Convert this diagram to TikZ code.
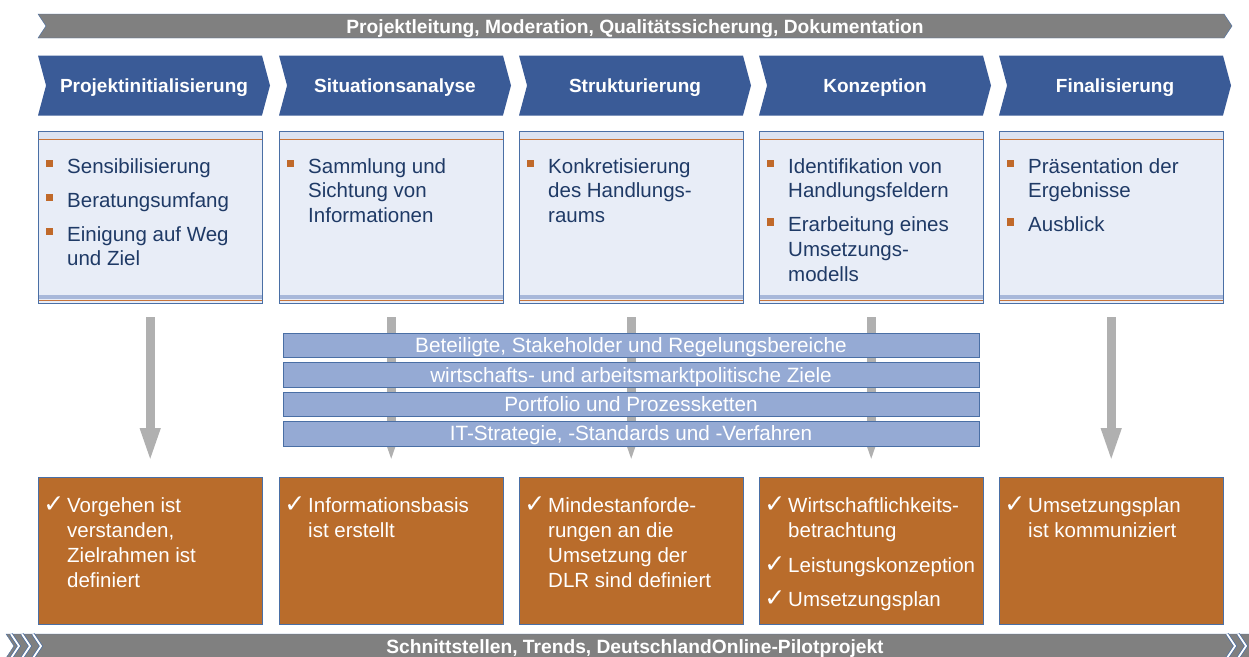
\documentclass[tikz,border=0pt]{standalone}
\usepackage{fontspec}
\setmainfont{Liberation Sans}
\newfontfamily\symfont{DejaVu Sans}
\usetikzlibrary{shapes.symbols,arrows.meta,positioning,calc}

\definecolor{phaseblue}{HTML}{3A5B97}
\definecolor{bargray}{HTML}{808080}
\definecolor{edgeblue}{HTML}{4A6FA5}
\definecolor{cardfill}{HTML}{E8EDF7}
\definecolor{cardtop}{HTML}{DCE3F1}
\definecolor{cardstripe}{HTML}{A8B8DA}
\definecolor{accent}{HTML}{C8743A}
\definecolor{bandblue}{HTML}{95AAD4}
\definecolor{resultorange}{HTML}{B96C2B}
\definecolor{bulletorange}{HTML}{C0692A}
\definecolor{cardtext}{HTML}{1F3A66}
\definecolor{arrowgray}{HTML}{B0B0B0}

\newcommand{\sqb}{\makebox[0pt][r]{\textcolor{bulletorange}{\rule[6pt]{7.5pt}{7.5pt}}\hspace{14pt}}}
\newcommand{\chk}{\makebox[0pt][r]{{\symfont\fontsize{25pt}{25pt}\selectfont ✓}\hspace{3pt}}}

\begin{document}
\begin{tikzpicture}[x=1pt, y=-1pt,
    phase/.style={signal, signal from=west, signal to=east, signal pointer angle=150,
        minimum width=232pt, minimum height=60pt, inner sep=0pt, fill=phaseblue,
        text=white, text height=13.6pt, text depth=0pt,
        font=\bfseries\fontsize{19pt}{19pt}\selectfont},
    bar/.style={signal, signal from=west, signal pointer angle=113, minimum height=24pt,
        inner sep=0pt, fill=bargray, draw=edgeblue, text=white,
        text height=14pt, text depth=0pt,
        font=\bfseries\fontsize{19.2pt}{19.2pt}\selectfont},
    card/.style={draw=edgeblue, fill=cardfill, anchor=north west, minimum width=224pt,
        minimum height=172pt, inner sep=0pt, path picture={
        \fill[cardtop] (path picture bounding box.north west) rectangle ([yshift=-8pt]path picture bounding box.north east);
        \fill[cardstripe] ([yshift=4pt]path picture bounding box.south west) rectangle ([yshift=8pt]path picture bounding box.south east);
        \draw[accent, line width=0.8pt] ([yshift=-8.5pt]path picture bounding box.north west) -- ([yshift=-8.5pt]path picture bounding box.north east);
        \draw[accent, line width=0.8pt] ([yshift=3pt]path picture bounding box.south west) -- ([yshift=3pt]path picture bounding box.south east);}},
    cardtext/.style={align=left, inner sep=0pt, text=cardtext,
        font=\fontsize{20.5pt}{24.7pt}\selectfont},
    result/.style={draw=edgeblue, fill=resultorange, anchor=north west, minimum width=224pt,
        minimum height=147pt, inner sep=0pt},
    restext/.style={align=left, inner sep=0pt, text=white,
        font=\fontsize{20.5pt}{24.7pt}\selectfont},
    band/.style={draw=edgeblue, fill=bandblue, text=white, minimum width=696pt,
        minimum height=24.5pt, inner sep=0pt, text height=14.8pt, text depth=0pt,
        font=\fontsize{20.7pt}{20.7pt}\selectfont},
    flow/.style={draw=arrowgray, line width=9pt, -{Triangle[width=18pt,length=35pt]},
        shorten <=14pt, shorten >=14pt},
    notch/.style={draw=edgeblue, line width=0.7pt, double=white, double distance=1.8pt}]
    \useasboundingbox (0,0) rectangle (1249,656);
    \clip (0,0) rectangle (1249,656);

    % top and bottom bars
    \node[bar, signal to=east, minimum width=1194pt] (lead) at (635,26) {Projektleitung, Moderation, Qualitätssicherung, Dokumentation};
    \node[bar, signal to=nowhere, minimum width=1250pt] (base) at (635,646) {Schnittstellen, Trends, DeutschlandOnline-Pilotprojekt};
    \draw[notch] (11,634) -- (19,646) -- (11,658) (22,634) -- (30,646) -- (22,658)
                 (33,634) -- (41,646) -- (33,658) (1227,634) -- (1235,646) -- (1227,658)
                 (1238,634) -- (1246,646) -- (1238,658);

    % phases
    \node[phase] (p1) at (154,85.5)   {Projektinitialisierung};
    \node[phase] (p2) at (395,85.5)   {Situationsanalyse};
    \node[phase] (p3) at (635,85.5)   {Strukturierung};
    \node[phase] (p4) at (875,85.5)   {Konzeption};
    \node[phase] (p5) at (1115,85.5)  {Finalisierung};

    % activities
    \node[card] (k1) at (38,131)  {};
    \node[card] (k2) at (279,131) {};
    \node[card] (k3) at (519,131) {};
    \node[card] (k4) at (759,131) {};
    \node[card] (k5) at (999,131) {};

    \node[cardtext, below right=27pt and 29pt of k1.north west] (t1) {\sqb Sensibilisierung\\[9.3pt]\sqb Beratungsumfang\\[9.3pt]\sqb Einigung auf Weg\\und Ziel};
    \node[cardtext, below right=27pt and 29pt of k2.north west] (t2) {\sqb Sammlung und\\Sichtung von\\Informationen};
    \node[cardtext, below right=27pt and 29pt of k3.north west] (t3) {\sqb Konkretisierung\\des Handlungs-\\raums};
    \node[cardtext, below right=27pt and 29pt of k4.north west] (t4) {\sqb Identifikation von\\Handlungsfeldern\\[9.3pt]\sqb Erarbeitung eines\\Umsetzungs-\\modells};
    \node[cardtext, below right=27pt and 29pt of k5.north west] (t5) {\sqb Präsentation der\\Ergebnisse\\[9.3pt]\sqb Ausblick};

    % results
    \node[result] (r1) at (38,477)  {};
    \node[result] (r2) at (279,477) {};
    \node[result] (r3) at (519,477) {};
    \node[result] (r4) at (759,477) {};
    \node[result] (r5) at (999,477) {};

    \path[flow] (k1) -- (r1);
    \path[flow] (k2) -- (r2);
    \path[flow] (k3) -- (r3);
    \path[flow] (k4) -- (r4);
    \path[flow] (k5) -- (r5);

    \node[restext, below right=20pt and 29pt of r1.north west] (s1) {\chk Vorgehen ist\\verstanden,\\Zielrahmen ist\\definiert};
    \node[restext, below right=20pt and 29pt of r2.north west] (s2) {\chk Informationsbasis\\ist erstellt};
    \node[restext, below right=20pt and 29pt of r3.north west] (s3) {\chk Mindestanforde-\\rungen an die\\Umsetzung der\\DLR sind definiert};
    \node[restext, below right=20pt and 29pt of r4.north west] (s4) {\chk Wirtschaftlichkeits-\\betrachtung\\[9.8pt]\chk Leistungskonzeption\\[9.8pt]\chk Umsetzungsplan};
    \node[restext, below right=20pt and 29pt of r5.north west] (s5) {\chk Umsetzungsplan\\ist kommuniziert};

    % cross-cutting topics
    \node[band] (b1) at (631,345.25)  {Beteiligte, Stakeholder und Regelungsbereiche};
    \node[band, below=4.5pt of b1] (b2) {wirtschafts- und arbeitsmarktpolitische Ziele};
    \node[band, below=4.5pt of b2] (b3) {Portfolio und Prozessketten};
    \node[band, below=4.5pt of b3] (b4) {IT-Strategie, -Standards und -Verfahren};
\end{tikzpicture}
\end{document}
